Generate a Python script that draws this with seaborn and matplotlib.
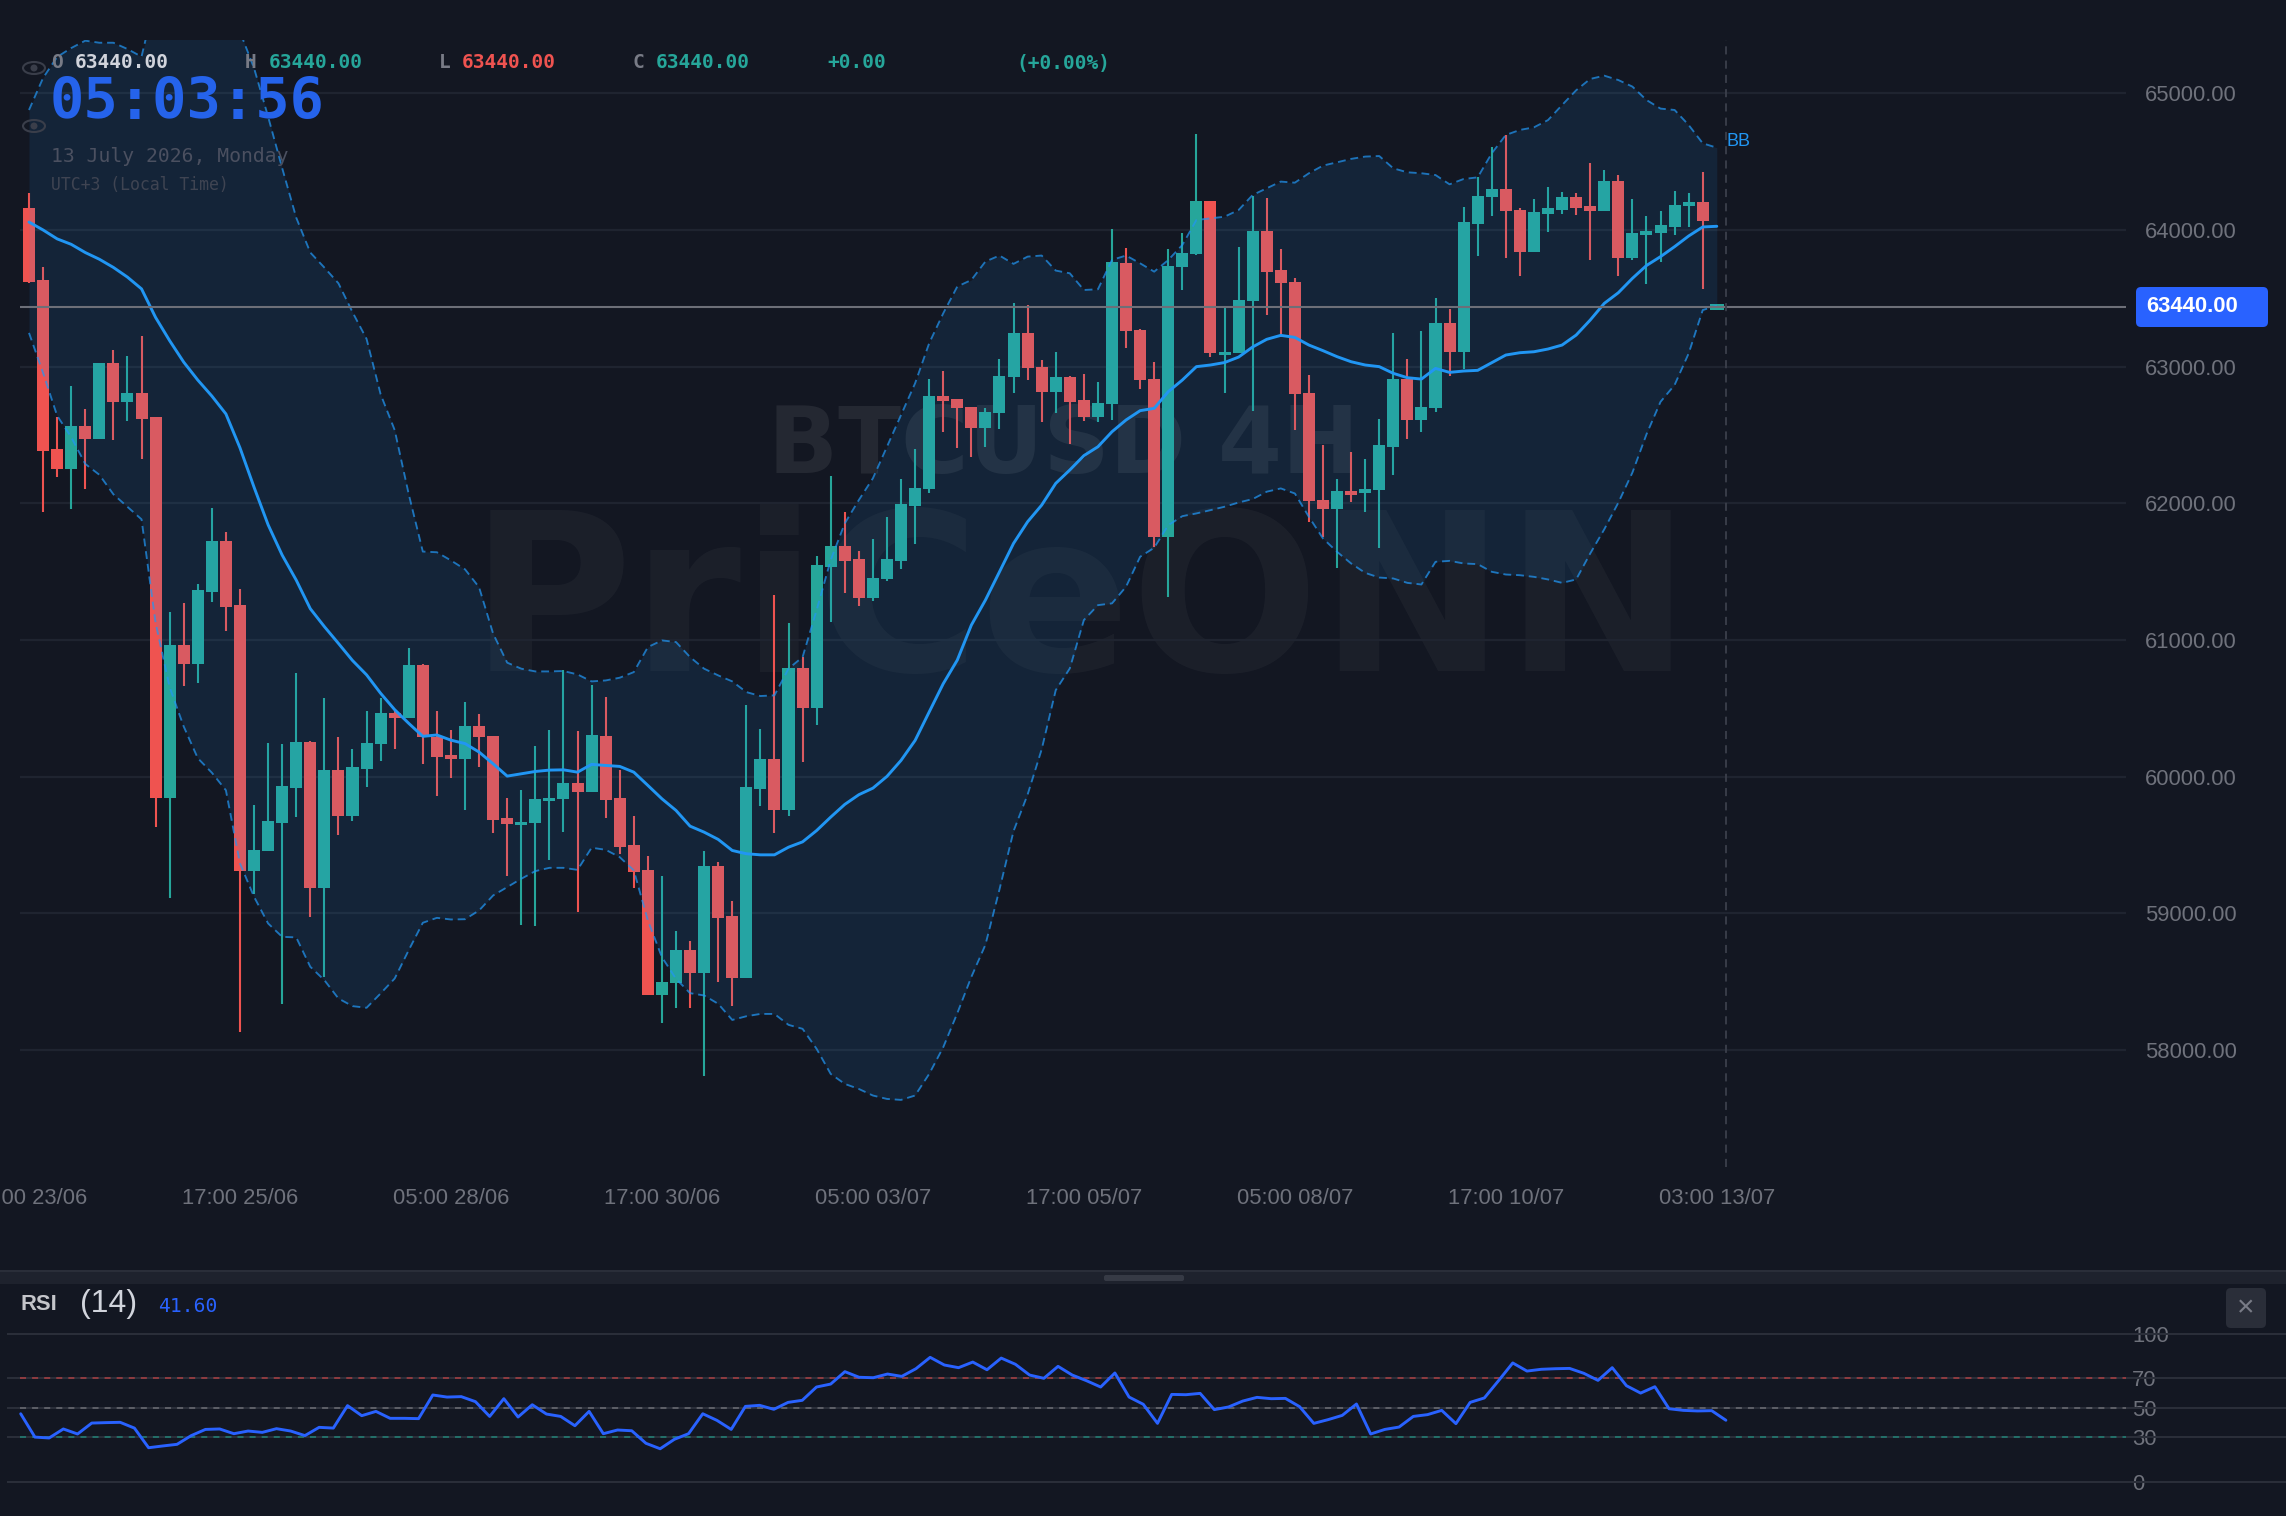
import matplotlib
matplotlib.use("Agg")
import matplotlib.pyplot as plt
from matplotlib.patches import Ellipse, FancyBboxPatch, Rectangle
import numpy as np
import pandas as pd
import seaborn as sns

# 4h BTCUSD bars
opens = [64162,63631,62395,62254,62565,62468,63030,62740,62808,62628,
         59847,60963,60827,61352,61721,61253,59309,59453,59663,59917,
         60253,59182,60051,59714,60056,60236,60463,60427,60817,60292,
         60156,60129,60373,60299,59694,59643,59658,59819,59833,59953,
         59885,60299,59843,59497,59316,58403,58491,58735,58567,59345,
         58979,58530,59911,60131,59753,60795,60506,61536,61690,61590,
         61304,61443,61578,61980,62102,62785,62766,62707,62551,62661,
         62922,63244,63000,62812,62922,62754,62632,62727,63756,63268,
         62912,61750,63729,63824,64212,63085,63099,63478,63990,63705,
         63619,62804,62026,61955,62089,62072,62097,62414,62907,62609,
         62697,63321,63109,64044,64239,64297,64149,63836,64117,64149,
         64239,64173,64139,64358,63797,63963,63980,64022,64173,64207,63440]
closes = [63618,62382,62254,62568,62468,63025,62740,62808,62615,59847,
          60963,60827,61365,61721,61240,59309,59465,59673,59929,60253,
          59182,60051,59714,60068,60248,60463,60427,60817,60288,60141,
          60126,60373,60287,59682,59653,59670,59833,59846,59953,59887,
          60302,59831,59484,59304,58403,58501,58735,58567,59345,58965,
          58530,59926,60131,59753,60795,60505,61551,61690,61578,61304,
          61455,61590,61992,62114,62785,62751,62697,62551,62671,62934,
          63244,62988,62812,62922,62741,62632,62736,63766,63264,62902,
          61751,63740,63834,64212,63097,63109,63487,63990,63695,63609,
          62797,62014,61955,62089,62062,62106,62428,62912,62609,62704,
          63321,63109,64056,64251,64297,64136,63836,64129,64158,64244,
          64161,64141,64358,63797,63978,63990,64034,64185,64207,64068,63440]
highs = [64274,63726,62628,62855,62693,63025,63119,63075,63221,62628,
         61208,61268,61412,61964,61789,61370,59795,60248,60236,60756,
         60261,60575,60288,60200,60483,60575,60492,60941,60824,60483,
         60341,60546,60460,60299,59846,59904,60224,60343,60778,60336,
         60670,60585,60046,59711,59419,59272,58872,58796,59455,59372,
         59092,60526,60351,61331,61121,60873,61614,62200,61934,61653,
         61736,61897,62175,62400,62907,62966,62766,62707,62695,63054,
         63464,63449,63046,63105,62929,62944,62885,64008,63869,63273,
         63032,63861,63975,64703,64212,63446,63873,64249,64232,63863,
         63651,62936,62426,62175,62372,62321,62619,63243,63058,63263,
         63500,63419,64171,64390,64610,64695,64158,64224,64312,64278,
         64268,64488,64437,64402,64224,64102,64137,64288,64271,64427,63440]
lows = [63610,61940,62191,61961,62107,62468,62463,62604,62324,59633,
        59113,60667,60688,61281,61067,58133,59141,59453,58340,59707,
        58975,58531,59575,59677,59926,60117,60202,60427,60090,59860,
        59987,59758,60070,59587,59270,58913,58906,59389,59594,59009,
        59885,59699,59431,59189,58399,58199,58311,58311,57808,58501,
        58323,58530,59785,59587,59714,60104,60377,61131,61346,61248,
        61287,61433,61516,61704,62073,62519,62407,62339,62414,62544,
        62805,62900,62597,62658,62436,62600,62597,62610,63139,62834,
        61678,61316,63561,63814,63068,62804,63099,62677,63380,63219,
        62536,61860,61750,61526,62009,61933,61670,62206,62467,62524,
        62670,62931,62980,63810,64105,63797,63661,63836,63983,64119,
        64110,63783,64139,63665,63783,63607,63766,63961,64022,63571,63440]

# Bollinger bands over the same bars
bb_upper = [64878,65112,65266,65331,65385,65370,65370,65324,65268,65700,
            65900,66000,66000,65900,65700,65450,65185,64829,64453,64090,
            63835,63725,63610,63399,63203,62798,62536,62066,61647,61642,
            61582,61517,61386,61046,60834,60790,60770,60770,60773,60748,
            60697,60704,60724,60765,60948,60997,60985,60875,60790,60741,
            60697,60619,60590,60595,60790,60875,61219,61585,61853,62024,
            62183,62414,62646,62878,63171,63390,63586,63634,63769,63813,
            63752,63805,63813,63703,63683,63561,63566,63781,63813,63756,
            63695,63780,63890,64073,64085,64097,64146,64256,64305,64354,
            64346,64415,64471,64495,64520,64537,64541,64451,64422,64415,
            64402,64334,64373,64385,64561,64695,64732,64751,64804,64914,
            65022,65105,65129,65097,65049,64951,64888,64878,64768,64634,64602]
bb_middle = [64058,64000,63935,63895,63835,63786,63726,63655,63569,63360,
             63190,63033,62902,62785,62654,62406,62118,61843,61621,61438,
             61229,61098,60975,60850,60745,60610,60490,60390,60295,60305,
             60267,60242,60180,60094,60004,60021,60038,60048,60050,60033,
             60090,60082,60075,60033,59936,59838,59753,59638,59594,59541,
             59460,59436,59428,59428,59484,59523,59606,59704,59797,59868,
             59916,60002,60119,60265,60473,60680,60853,61109,61292,61499,
             61707,61865,61987,62146,62244,62349,62414,62524,62610,62678,
             62695,62817,62902,63000,63012,63030,63070,63144,63200,63229,
             63214,63158,63117,63073,63036,63012,63000,62951,62919,62909,
             62987,62958,62968,62973,63029,63085,63102,63109,63129,63158,
             63231,63341,63463,63541,63646,63740,63805,63878,63956,64022,64027]
bb_lower = [63247,62954,62641,62484,62288,62209,62066,61974,61883,61125,
            60654,60367,60135,60029,59900,59365,59121,58926,58828,58824,
            58609,58511,58377,58321,58309,58414,58523,58731,58931,58967,
            58955,58957,59021,59131,59192,59253,59309,59333,59333,59318,
            59480,59465,59411,59314,58948,58679,58521,58416,58399,58338,
            58220,58247,58264,58264,58184,58155,58008,57825,57752,57715,
            57667,57642,57635,57667,57825,58020,58269,58535,58770,59175,
            59602,59869,60200,60633,60792,61146,61255,61268,61390,61609,
            61675,61840,61906,61926,61950,61975,62006,62031,62085,62109,
            62072,61901,61743,61645,61560,61491,61457,61450,61418,61406,
            61572,61579,61560,61555,61499,61479,61474,61462,61443,61418,
            61443,61633,61810,62005,62225,62505,62743,62866,63097,63414,63446]

# RSI(14), one reading per bar
rsi_values = [46,30.2,29.6,35.7,32.3,39.7,40,40.2,36.3,23,
              24.2,25.3,31.2,35.4,35.7,32.5,34.3,33.4,35.9,34.3,
              31.2,36.8,36.3,51.5,44.7,47.6,42.9,42.9,42.7,58.7,
              57.3,57.6,54.2,44.2,56.2,43.8,52.1,45.8,44.2,37.9,
              47.6,32.5,35,34.5,26,22.3,28.7,32.5,46,41.5,
              35.4,51,51.7,49,53.7,55.1,64.1,66.1,74.5,70.7,
              70.4,72.9,71.3,76.5,84.2,79,77.2,81,75.8,83.7,
              79.5,72.2,70,78.1,72.2,68.4,64.1,73.6,57.3,52.4,
              39.5,59.1,58.9,59.8,48.8,50.6,54.6,57.1,56.2,56.4,
              50.8,39.5,42,44.9,52.6,32.3,35.4,37,44.2,45.4,
              48.3,39.3,53.7,56.7,68.4,80.4,74.9,76.1,76.5,76.7,
              73.4,68.6,77.2,65,60,64.3,49.4,48.3,47.9,48.1,41.6]

price_ticks = [58000,59000,60000,61000,62000,63000,64000,65000]
date_ticks = [0,15,30,45,60,75,90,105,120]
date_labels = ["05:00 23/06","17:00 25/06","05:00 28/06","17:00 30/06","05:00 03/07",
               "17:00 05/07","05:00 08/07","17:00 10/07","03:00 13/07"]
rsi_ticks = [0,30,50,70,100]
last_price = 63440

BG = "#131722"
UP = "#26a69a"
DOWN = "#ef5350"
BLUE = "#2196f3"
ACCENT = "#2962ff"
LABEL = "#6f727c"
W, H = 2286, 1516

sns.set_theme(style="dark", rc={"figure.facecolor": BG, "axes.facecolor": BG,
                                "axes.edgecolor": BG, "savefig.facecolor": BG})
plt.rcParams["font.family"] = ["Liberation Sans", "DejaVu Sans"]
MONO = ["DejaVu Sans Mono"]


def px(size):
    """Font size in points for a size given in output pixels."""
    return size * 0.72


def panel(x0, y0, x1, y1, **kw):
    return fig.add_axes([x0 / W, 1 - y1 / H, (x1 - x0) / W, (y1 - y0) / H], **kw)


fig = plt.figure(figsize=(W / 100, H / 100), dpi=100)

# Backdrop layer holding the watermark
back = panel(0, 0, W, H, zorder=0)
back.set_xlim(0, W)
back.set_ylim(H, 0)
back.axis("off")
back.text(470, 671, "PriCeONN", fontsize=px(222), fontweight="bold", family="DejaVu Sans",
          color="#ffffff", alpha=0.035, va="baseline", ha="left")
back.text(768, 473, "BTCUSD 4H", fontsize=px(92), fontweight="bold", family="DejaVu Sans",
          color="#ffffff", alpha=0.075, va="baseline", ha="left")

# Price panel
ax = panel(20, 40, 2126, 1167, zorder=1)
ax.patch.set_alpha(0)
bars = np.arange(len(opens))
frame = pd.DataFrame({"bar": bars, "open": opens, "high": highs, "low": lows, "close": closes,
                      "upper": bb_upper, "middle": bb_middle, "lower": bb_lower})
rising = frame["close"] >= frame["open"]
colors = np.where(rising, UP, DOWN)

ax.hlines(price_ticks, -1, 160, color="#1f2430", lw=1.6, zorder=1)
ax.vlines(frame["bar"], frame["low"], frame["high"], colors=colors, lw=1.5, zorder=2)
body_base = frame[["open", "close"]].min(axis=1)
body_height = (frame["close"] - frame["open"]).abs()
ax.bar(frame["bar"][:-1], body_height[:-1], bottom=body_base[:-1], width=0.855,
       color=colors[:-1], lw=0, zorder=3)
# The forming bar has no range yet: it shows as a flat tick
ax.hlines(closes[-1], bars[-1] - 0.5, bars[-1] + 0.5, color=UP, lw=px(6), zorder=3)

ax.fill_between(frame["bar"], frame["lower"], frame["upper"], color=BLUE, alpha=0.105, lw=0, zorder=4)
for col in ("upper", "lower"):
    sns.lineplot(data=frame, x="bar", y=col, ax=ax, color=BLUE, alpha=0.72, lw=1.35,
                 linestyle=(0, (4.2, 2.6)), zorder=5, errorbar=None)
sns.lineplot(data=frame, x="bar", y="middle", ax=ax, color=BLUE, lw=2.1, zorder=6, errorbar=None)

ax.axhline(last_price, color="#6d6f78", lw=1.5, zorder=7)
ax.axvline(120.65, color="#3b3f4b", lw=1.3, linestyle=(0, (4.5, 3.4)), zorder=7)

ax.set_xlim((20 - 29) / 14.065, (2126 - 29) / 14.065)
ax.set_ylim(57144, 65390)
ax.set_xticks(date_ticks, date_labels)
ax.yaxis.tick_right()
ax.set_yticks(price_ticks, [f"{p:.2f}" for p in price_ticks])
ax.set_xlabel("")
ax.set_ylabel("")
ax.tick_params(axis="x", length=0, pad=15, labelsize=px(22), labelcolor=LABEL)
ax.tick_params(axis="y", length=0, pad=13.5, labelsize=px(22), labelcolor=LABEL)
for label in ax.get_xticklabels():
    label.set_clip_on(False)
sns.despine(ax=ax, left=True, bottom=True, right=True, top=True)

# RSI panel
rsi_ax = panel(20, 1334, 2126, 1481.7, zorder=1)
rsi_ax.patch.set_alpha(0)
rsi_frame = pd.DataFrame({"bar": bars, "rsi": rsi_values})
rsi_ax.hlines([0, 30, 50, 70, 100], -1, 160, color="#2a2e39", lw=1.5, zorder=1, clip_on=False)
for level, shade in ((70, "#8c3b40"), (50, "#5c5e66"), (30, "#236e68")):
    rsi_ax.axhline(level, color=shade, lw=1.45, linestyle=(0, (3, 3)), zorder=2)
sns.lineplot(data=rsi_frame, x="bar", y="rsi", ax=rsi_ax, color=ACCENT, lw=2.1, zorder=3, errorbar=None)
for line in rsi_ax.get_lines():
    line.set_clip_on(False)
rsi_ax.set_xlim(-0.05, (2126 - 20.7) / 14.21)
rsi_ax.set_ylim(0, 100)
rsi_ax.set_xticks([])
rsi_ax.yaxis.tick_right()
rsi_ax.set_yticks(rsi_ticks, [str(v) for v in rsi_ticks])
rsi_ax.set_xlabel("")
rsi_ax.set_ylabel("")
rsi_ax.tick_params(axis="y", length=0, pad=4.5, labelsize=px(22), labelcolor=LABEL)
sns.despine(ax=rsi_ax, left=True, bottom=True, right=True, top=True)

# Header text, price tag and panel furniture
top = panel(0, 0, W, H, zorder=5)
top.patch.set_alpha(0)
top.set_xlim(0, W)
top.set_ylim(H, 0)
top.axis("off")

ohlc_y = 63
for x, text, color, weight in [(51, "O", "#787b86", "bold"), (75, "63440.00", "#d1d4dc", "bold"),
                               (245, "H", "#787b86", "bold"), (269, "63440.00", UP, "bold"),
                               (439, "L", "#787b86", "bold"), (462, "63440.00", DOWN, "bold"),
                               (633, "C", "#787b86", "bold"), (656, "63440.00", UP, "bold"),
                               (827, "+0.00", UP, "bold"), (1016, "(+0.00%)", UP, "bold")]:
    top.text(x, ohlc_y, text, family=MONO, fontsize=px(19.5), color=color, fontweight=weight,
             va="center", ha="left")

top.text(50, 119, "05:03:56", family=MONO, fontsize=px(57), fontweight="bold", color="#2563eb",
         va="baseline", ha="left")
top.text(51, 157, "13 July 2026, Monday", family=MONO, fontsize=px(19.8), color="#4b5060",
         va="center", ha="left")
top.text(51, 185, "UTC+3 (Local Time)", family=MONO, fontsize=px(16.5), color="#3f4452",
         va="center", ha="left")

for ey in (68, 126):
    top.add_patch(Ellipse((34, ey), 22, 12, fill=False, ec="#3a3e4a", lw=1.5))
    top.add_patch(Ellipse((34, ey), 7, 7, fc="#3a3e4a", ec="none"))

top.text(1727, 142, "BB", fontsize=px(18), color=BLUE, va="center", ha="left")
top.add_patch(FancyBboxPatch((2140, 291), 124, 32, boxstyle="round,pad=4,rounding_size=5",
                             fc=ACCENT, ec="none"))
top.text(2146, 307, f"{last_price:.2f}", fontsize=px(22), fontweight="bold", color="white",
         va="center", ha="left")

top.add_patch(Rectangle((0, 1270), W, 2, fc="#2a2e39", ec="none"))
top.add_patch(Rectangle((0, 1272), W, 12, fc="#1e222d", ec="none"))
top.add_patch(FancyBboxPatch((1106, 1277), 76, 2, boxstyle="round,pad=2,rounding_size=2",
                             fc="#363a45", ec="none"))

top.text(20, 1305, "RSI", fontsize=px(22), fontweight="bold", color="#c4c5ca", va="center", ha="left")
top.text(80, 1304, "(14)", fontsize=px(32), color="#d1d4dc", va="center", ha="left")
top.text(158, 1306, "41.60", family=MONO, fontsize=px(19.6), color=ACCENT, va="center", ha="left")

top.add_patch(FancyBboxPatch((2230, 1292), 32, 32, boxstyle="round,pad=4,rounding_size=5",
                             fc="#2a2e39", ec="none"))
top.text(2246, 1308, "×", fontsize=px(30), color="#787b86", va="center", ha="center")

fig.savefig("out.png", dpi=100, facecolor=BG)
